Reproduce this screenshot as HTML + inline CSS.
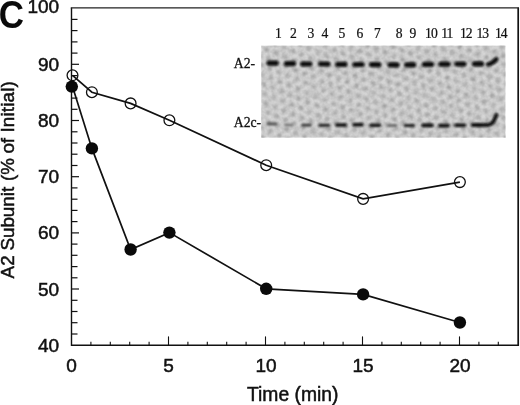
<!DOCTYPE html>
<html><head><meta charset="utf-8"><title>Figure C</title>
<style>html,body{margin:0;padding:0;background:#fff;overflow:hidden}svg{display:block}</style></head>
<body>
<svg width="520" height="405" viewBox="0 0 520 405">
<defs>
<filter id="b1" x="-20%" y="-100%" width="140%" height="300%"><feGaussianBlur stdDeviation="0.9"/></filter>
<filter id="b2" x="-5%" y="-5%" width="110%" height="110%"><feGaussianBlur stdDeviation="1.3"/></filter>
<pattern id="dots" width="9.6" height="16.63" patternUnits="userSpaceOnUse" patternTransform="rotate(22)">
<circle cx="2.4" cy="4.16" r="2.5" fill="#9a9a9a"/><circle cx="7.2" cy="12.47" r="2.5" fill="#9a9a9a"/>
</pattern>
<filter id="nz" x="0" y="0" width="100%" height="100%"><feTurbulence type="fractalNoise" baseFrequency="0.22" numOctaves="2" seed="7" result="t"/><feColorMatrix type="matrix" values="0 0 0 0 0  0 0 0 0 0  0 0 0 0 0  0.9 0 0 0 -0.28"/></filter>
<clipPath id="gc"><rect x="261.2" y="45.4" width="244.4" height="92.3"/></clipPath>
</defs>
<rect width="520" height="405" fill="#fff"/>
<g clip-path="url(#gc)">
<rect x="261.2" y="45.4" width="244.4" height="92.3" fill="#d6d6d6"/>
<rect x="251.2" y="35.4" width="264.4" height="112.3" fill="url(#dots)" filter="url(#b2)" opacity="0.6"/>
<rect x="261.2" y="45.4" width="244.4" height="92.3" filter="url(#nz)" opacity="0.22"/>
<g filter="url(#b1)">
<rect x="266.4" y="60.6" width="12.2" height="5.2" rx="2.5" fill="#080808"/>
<rect x="266.4" y="122.5" width="11" height="2.7" rx="1.4" fill="rgb(80,80,80)"/>
<rect x="283.9" y="61.1" width="12.2" height="5.2" rx="2.5" fill="#080808"/>
<rect x="284.2" y="123.7" width="9.5" height="2.5" rx="1.2" fill="rgb(112,112,112)"/>
<rect x="300.2" y="61.4" width="12.2" height="5.2" rx="2.5" fill="#080808"/>
<rect x="301.2" y="123.8" width="10.5" height="2.8" rx="1.4" fill="rgb(56,56,56)"/>
<rect x="318.2" y="61.4" width="12.2" height="5.2" rx="2.5" fill="#080808"/>
<rect x="318.6" y="123.7" width="11.5" height="3.1" rx="1.6" fill="rgb(36,36,36)"/>
<rect x="335.2" y="61.8" width="12.2" height="5.2" rx="2.5" fill="#080808"/>
<rect x="335.0" y="123.2" width="12" height="3.6" rx="1.8" fill="rgb(12,12,12)"/>
<rect x="352.4" y="61.9" width="12.2" height="5.2" rx="2.5" fill="#080808"/>
<rect x="352.2" y="123.0" width="11.5" height="3.6" rx="1.8" fill="rgb(16,16,16)"/>
<rect x="369.2" y="62.1" width="12.2" height="5.2" rx="2.5" fill="#080808"/>
<rect x="369.3" y="123.5" width="12" height="3.4" rx="1.7" fill="rgb(24,24,24)"/>
<rect x="387.4" y="62.3" width="12.2" height="5.2" rx="2.5" fill="#080808"/>
<rect x="387.6" y="124.2" width="9.5" height="2.5" rx="1.2" fill="rgb(92,92,92)"/>
<rect x="404.1" y="62.3" width="12.2" height="5.2" rx="2.5" fill="#080808"/>
<rect x="403.6" y="124.0" width="11.5" height="3.1" rx="1.6" fill="rgb(36,36,36)"/>
<rect x="421.9" y="61.8" width="12.2" height="5.2" rx="2.5" fill="#080808"/>
<rect x="421.2" y="123.6" width="12.5" height="3.6" rx="1.8" fill="rgb(12,12,12)"/>
<rect x="438.4" y="61.6" width="12.2" height="5.2" rx="2.5" fill="#080808"/>
<rect x="438.0" y="123.8" width="12" height="3.6" rx="1.8" fill="rgb(12,12,12)"/>
<rect x="454.4" y="61.4" width="12.2" height="5.2" rx="2.5" fill="#080808"/>
<rect x="454.4" y="123.5" width="12" height="3.6" rx="1.8" fill="rgb(12,12,12)"/>
<rect x="471.9" y="61.2" width="12.2" height="5.2" rx="2.5" fill="#080808"/>
<rect x="470.8" y="123.1" width="13.5" height="3.8" rx="1.9" fill="rgb(10,10,10)"/>
<path d="M488.3 64.2 Q492 63.8 496.3 59.2" stroke="#080808" stroke-width="4.6" fill="none" stroke-linecap="round"/>
<path d="M484.5 125 Q491 125.5 493.5 121.5 L496.5 115" stroke="#080808" stroke-width="3.8" fill="none" stroke-linecap="round" stroke-linejoin="round"/>
</g>
</g>
<g font-family="'Liberation Serif', serif" font-size="13.6" fill="#111" stroke="#111" stroke-width="0.22" text-anchor="middle">
<text x="278.5" y="38.1">1</text>
<text x="293.3" y="38.1">2</text>
<text x="311" y="38.1">3</text>
<text x="325" y="38.1">4</text>
<text x="342" y="38.1">5</text>
<text x="360" y="38.1">6</text>
<text x="377.5" y="38.1">7</text>
<text x="399.2" y="38.1">8</text>
<text x="413" y="38.1">9</text>
<text x="430.9" y="38.1" letter-spacing="-1">10</text>
<text x="446.8" y="38.1" letter-spacing="-1">11</text>
<text x="465.7" y="38.1" letter-spacing="-1">12</text>
<text x="482.3" y="38.1" letter-spacing="-1">13</text>
<text x="500.7" y="38.1" letter-spacing="-1">14</text>
</g>
<g font-family="'Liberation Serif', serif" font-size="13.7" fill="#111" stroke="#111" stroke-width="0.3">
<text x="233.8" y="67.8">A2-</text>
<text x="233.8" y="127.3">A2c-</text>
</g>
<g stroke="#111" stroke-width="1.4" fill="none">
<path d="M71.5 7.8 V345.2 H518.2"/>
<path d="M518.2 345.9 V7.8" stroke-width="1.7"/>
<path d="M70.8 7.8 H519.0" stroke-width="1.2" stroke="#222"/>
<path d="M71.5 334.0 h6" stroke-width="1.2"/>
<path d="M71.5 322.7 h6" stroke-width="1.2"/>
<path d="M71.5 311.5 h6" stroke-width="1.2"/>
<path d="M71.5 300.3 h6" stroke-width="1.2"/>
<path d="M71.5 289.0 h7.5" stroke-width="1.2"/>
<path d="M71.5 277.8 h6" stroke-width="1.2"/>
<path d="M71.5 266.6 h6" stroke-width="1.2"/>
<path d="M71.5 255.3 h6" stroke-width="1.2"/>
<path d="M71.5 244.1 h6" stroke-width="1.2"/>
<path d="M71.5 232.9 h7.5" stroke-width="1.2"/>
<path d="M71.5 221.6 h6" stroke-width="1.2"/>
<path d="M71.5 210.4 h6" stroke-width="1.2"/>
<path d="M71.5 199.2 h6" stroke-width="1.2"/>
<path d="M71.5 187.9 h6" stroke-width="1.2"/>
<path d="M71.5 176.7 h7.5" stroke-width="1.2"/>
<path d="M71.5 165.5 h6" stroke-width="1.2"/>
<path d="M71.5 154.2 h6" stroke-width="1.2"/>
<path d="M71.5 143.0 h6" stroke-width="1.2"/>
<path d="M71.5 131.8 h6" stroke-width="1.2"/>
<path d="M71.5 120.5 h7.5" stroke-width="1.2"/>
<path d="M71.5 109.3 h6" stroke-width="1.2"/>
<path d="M71.5 98.1 h6" stroke-width="1.2"/>
<path d="M71.5 86.8 h6" stroke-width="1.2"/>
<path d="M71.5 75.6 h6" stroke-width="1.2"/>
<path d="M71.5 64.3 h7.5" stroke-width="1.2"/>
<path d="M71.5 53.1 h6" stroke-width="1.2"/>
<path d="M71.5 41.9 h6" stroke-width="1.2"/>
<path d="M71.5 30.6 h6" stroke-width="1.2"/>
<path d="M71.5 19.4 h6" stroke-width="1.2"/>
<path d="M90.9 345.2 v-3.4" stroke-width="1.1"/>
<path d="M110.3 345.2 v-3.4" stroke-width="1.1"/>
<path d="M129.7 345.2 v-3.4" stroke-width="1.1"/>
<path d="M149.1 345.2 v-3.4" stroke-width="1.1"/>
<path d="M168.5 345.2 v-8.8" stroke-width="1.1"/>
<path d="M187.9 345.2 v-3.4" stroke-width="1.1"/>
<path d="M207.3 345.2 v-3.4" stroke-width="1.1"/>
<path d="M226.7 345.2 v-3.4" stroke-width="1.1"/>
<path d="M246.1 345.2 v-3.4" stroke-width="1.1"/>
<path d="M265.5 345.2 v-8.8" stroke-width="1.1"/>
<path d="M284.9 345.2 v-3.4" stroke-width="1.1"/>
<path d="M304.3 345.2 v-3.4" stroke-width="1.1"/>
<path d="M323.7 345.2 v-3.4" stroke-width="1.1"/>
<path d="M343.1 345.2 v-3.4" stroke-width="1.1"/>
<path d="M362.5 345.2 v-8.8" stroke-width="1.1"/>
<path d="M381.9 345.2 v-3.4" stroke-width="1.1"/>
<path d="M401.3 345.2 v-3.4" stroke-width="1.1"/>
<path d="M420.7 345.2 v-3.4" stroke-width="1.1"/>
<path d="M440.1 345.2 v-3.4" stroke-width="1.1"/>
<path d="M459.5 345.2 v-8.8" stroke-width="1.1"/>
<path d="M478.9 345.2 v-3.4" stroke-width="1.1"/>
<path d="M498.3 345.2 v-3.4" stroke-width="1.1"/>
</g>
<polyline points="72.5,75.3 91.9,92.2 130.6,103.4 169.4,120.3 266.2,165.2 363.1,198.9 459.9,182.1" fill="none" stroke="#111" stroke-width="1.7"/>
<polyline points="72.5,86.6 91.9,148.4 130.6,249.5 169.4,232.6 266.2,288.8 363.1,294.4 459.9,322.5" fill="none" stroke="#111" stroke-width="1.7"/>
<circle cx="72.5" cy="75.3" r="5.4" fill="none" stroke="#111" stroke-width="1.3"/>
<circle cx="91.9" cy="92.2" r="5.4" fill="none" stroke="#111" stroke-width="1.3"/>
<circle cx="130.6" cy="103.4" r="5.4" fill="none" stroke="#111" stroke-width="1.3"/>
<circle cx="169.4" cy="120.3" r="5.4" fill="none" stroke="#111" stroke-width="1.3"/>
<circle cx="266.2" cy="165.2" r="5.4" fill="none" stroke="#111" stroke-width="1.3"/>
<circle cx="363.1" cy="198.9" r="5.4" fill="none" stroke="#111" stroke-width="1.3"/>
<circle cx="459.9" cy="182.1" r="5.4" fill="none" stroke="#111" stroke-width="1.3"/>
<circle cx="71.8" cy="86.6" r="6.2" fill="#0a0a0a"/>
<circle cx="91.9" cy="148.4" r="6.2" fill="#0a0a0a"/>
<circle cx="130.6" cy="249.5" r="6.2" fill="#0a0a0a"/>
<circle cx="169.4" cy="232.6" r="6.2" fill="#0a0a0a"/>
<circle cx="266.2" cy="288.8" r="6.2" fill="#0a0a0a"/>
<circle cx="363.1" cy="294.4" r="6.2" fill="#0a0a0a"/>
<circle cx="459.9" cy="322.5" r="6.2" fill="#0a0a0a"/>
<g font-family="'Liberation Sans', sans-serif" font-size="19" fill="#111" stroke="#111" stroke-width="0.5">
<text x="59.1" y="351.7" text-anchor="end">40</text>
<text x="59.1" y="295.5" text-anchor="end">50</text>
<text x="59.1" y="239.4" text-anchor="end">60</text>
<text x="59.1" y="183.2" text-anchor="end">70</text>
<text x="59.1" y="127.0" text-anchor="end">80</text>
<text x="59.1" y="70.8" text-anchor="end">90</text>
<text x="59.1" y="13.3" text-anchor="end">100</text>
<text x="71.5" y="372.4" text-anchor="middle">0</text>
<text x="168.5" y="372.4" text-anchor="middle">5</text>
<text x="266.1" y="372.4" text-anchor="middle">10</text>
<text x="363.1" y="372.4" text-anchor="middle">15</text>
<text x="460.1" y="372.4" text-anchor="middle">20</text>
<text x="292.7" y="401.4" text-anchor="middle" font-size="19.3">Time (min)</text>
<text transform="translate(14.3 278.4) rotate(-90)" font-size="18.8"><tspan x="0">A2</tspan> <tspan x="27.85">Subunit</tspan> <tspan x="97.5">(%</tspan> <tspan x="124.8">of</tspan> <tspan x="145.8" letter-spacing="0.18">Initial)</tspan></text>
</g>
<text transform="translate(-1.2 27.8) scale(0.92 1.025)" font-family="'Liberation Sans', sans-serif" font-weight="bold" font-size="38" fill="#0a0a0a">C</text>
</svg>
</body></html>
